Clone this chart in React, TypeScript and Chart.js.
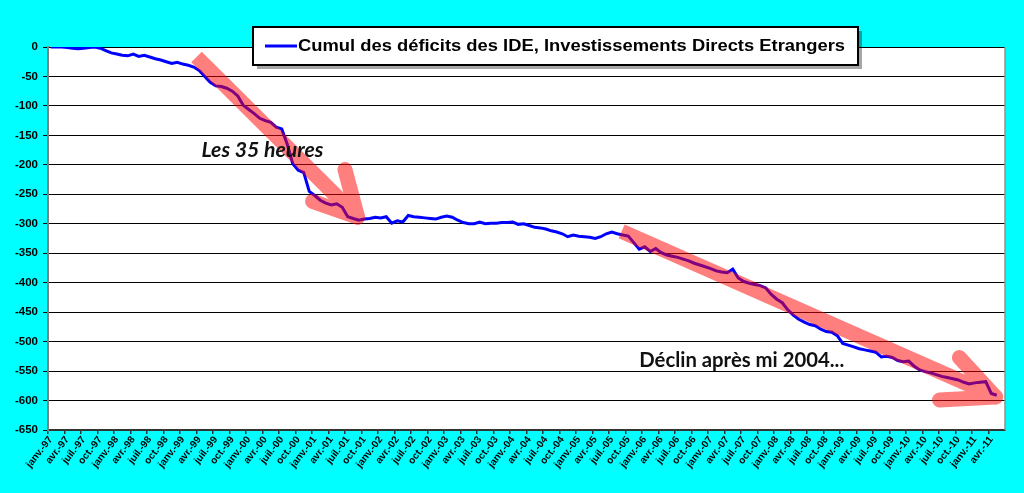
import React, { useEffect, useRef } from 'react';
import { Chart, registerables } from 'chart.js';

Chart.register(...registerables);

// ---- categories: monthly, janv.-97 .. juin-11 ----
const monthNames = ['janv.', 'févr.', 'mars', 'avr.', 'mai', 'juin', 'juil.', 'août', 'sept.', 'oct.', 'nov.', 'déc.'];
const years = [97, 98, 99, 0, 1, 2, 3, 4, 5, 6, 7, 8, 9, 10, 11];
const categories: string[] = [];
years.forEach((yy) => {
  monthNames.forEach((m, mi) => {
    if (yy === 11 && mi > 5) return;
    categories.push(`${m}-${String(yy).padStart(2, '0')}`);
  });
});

// ---- series: cumul des déficits des IDE (monthly) ----
const cumulIDE: (number | null)[] = [
  0, 0, 0, -1, -2, -3, -2, -1, 0, -2,
  -6, -10, -12, -14, -15, -12, -16, -14, -17, -20,
  -22, -25, -28, -26, -29, -31, -34, -40, -50, -60,
  -66, -67, -70, -75, -83, -99, -106, -113, -121, -125,
  -128, -136, -139, -165, -198, -209, -213, -245, -252, -260,
  -265, -268, -266, -272, -288, -291, -294, -292, -291, -289,
  -290, -288, -299, -295, -297, -286, -288, -289, -290, -291,
  -292, -289, -287, -289, -294, -298, -300, -300, -297, -300,
  -299, -299, -298, -298, -297, -301, -300, -303, -306, -307,
  -309, -312, -314, -317, -322, -319, -321, -322, -323, -325,
  -322, -317, -314, -317, -319, -321, -332, -343, -339, -347,
  -342, -349, -353, -355, -357, -360, -363, -367, -370, -373,
  -376, -380, -382, -383, -377, -392, -398, -401, -403, -405,
  -409, -420, -428, -434, -446, -455, -462, -467, -471, -473,
  -479, -483, -484, -490, -503, -506, -509, -512, -514, -516,
  -518, -526, -525, -527, -532, -534, -533, -542, -548, -551,
  -553, -556, -559, -561, -563, -565, -569, -572, -570, -569,
  -568, -588, -591, null,
];

const seriesLabel = 'Cumul des déficits des IDE, Investissements Directs Etrangers';
const yMin = -650;
const yMax = 0;
const yStep = 50;
const labelEvery = 3;

// ---- annotations (in data coordinates: [month index, value]) ----
const arrowShaft1: [number, number][] = [[26.5, -17], [55.6, -287]];
const arrowArms1: [number, number][][] = [
  [[47.6, -262], [55.8, -289]],
  [[53.5, -208], [55.8, -289]],
];
const arrowShaft2: [number, number][] = [[103.8, -313], [171.6, -592]];
const arrowArms2: [number, number][][] = [
  [[161.6, -599], [171.8, -594]],
  [[165.2, -527], [171.8, -594]],
];
const note1 = { text: 'Les 35 heures', at: [27.4, -187] as [number, number], width: 122, italic: true };
const note2 = { text: 'Déclin après mi 2004...', at: [107.0, -543] as [number, number], width: 205, italic: false };

const bgPlugin = {
  id: 'plotBg',
  beforeDraw(chart: any) {
    const { ctx, chartArea: a } = chart;
    ctx.save();
    ctx.fillStyle = '#ffffff';
    ctx.fillRect(a.left, a.top, a.right - a.left, a.bottom - a.top);
    ctx.restore();
  },
  beforeDatasetsDraw(chart: any) {
    const { ctx, chartArea: a } = chart;
    ctx.save();
    ctx.strokeStyle = '#909090';
    ctx.lineWidth = 1.5;
    ctx.beginPath();
    ctx.moveTo(a.right, a.top);
    ctx.lineTo(a.right, a.bottom);
    ctx.stroke();
    ctx.restore();
  },
};

const annotationPlugin = {
  id: 'annots',
  afterDatasetsDraw(chart: any) {
    const { ctx } = chart;
    const xs = chart.scales.x;
    const ys = chart.scales.y;
    const px = (p: [number, number]) => [xs.getPixelForValue(p[0]), ys.getPixelForValue(p[1])];

    const off = document.createElement('canvas');
    off.width = chart.width;
    off.height = chart.height;
    const o = off.getContext('2d') as CanvasRenderingContext2D;
    o.strokeStyle = '#ff0000';
    const drawArrow = (shaft: [number, number][], arms: [number, number][][]) => {
      o.lineWidth = 15;
      o.lineCap = 'butt';
      o.beginPath();
      const s0 = px(shaft[0]);
      const s1 = px(shaft[1]);
      o.moveTo(s0[0], s0[1]);
      o.lineTo(s1[0], s1[1]);
      o.stroke();
      o.lineWidth = 15;
      o.lineCap = 'round';
      o.lineJoin = 'round';
      arms.forEach((arm) => {
        const a0 = px(arm[0]);
        const a1 = px(arm[1]);
        o.beginPath();
        o.moveTo(a0[0], a0[1]);
        o.lineTo(a1[0], a1[1]);
        o.stroke();
      });
    };
    drawArrow(arrowShaft1, arrowArms1);
    drawArrow(arrowShaft2, arrowArms2);
    ctx.save();
    ctx.globalAlpha = 0.5;
    ctx.drawImage(off, 0, 0, chart.width, chart.height);
    ctx.restore();

    [note1, note2].forEach((n) => {
      const [x, y] = px(n.at);
      ctx.save();
      ctx.font = `${n.italic ? 'italic ' : ''}bold 20px Lato`;
      ctx.fillStyle = '#111111';
      ctx.textBaseline = 'alphabetic';
      const w = ctx.measureText(n.text).width;
      ctx.translate(x, y);
      ctx.scale(n.width / w, 1);
      ctx.fillText(n.text, 0, 0);
      ctx.restore();
    });
  },
  afterDraw(chart: any) {
    const { ctx } = chart;
    const bx = 253, by = 27, bw = 605, bh = 38;
    ctx.save();
    ctx.fillStyle = 'rgba(0,0,0,0.35)';
    ctx.fillRect(bx + 4, by + 4, bw, bh);
    ctx.fillStyle = '#ffffff';
    ctx.fillRect(bx, by, bw, bh);
    ctx.strokeStyle = '#000000';
    ctx.lineWidth = 2;
    ctx.strokeRect(bx, by, bw, bh);
    ctx.strokeStyle = '#0000ff';
    ctx.lineWidth = 3;
    ctx.beginPath();
    ctx.moveTo(265, 46);
    ctx.lineTo(297, 46);
    ctx.stroke();
    ctx.font = 'bold 17px "Liberation Sans"';
    ctx.fillStyle = '#000000';
    ctx.textBaseline = 'middle';
    const w = ctx.measureText(seriesLabel).width;
    ctx.translate(298, 46);
    ctx.scale(547 / w, 1);
    ctx.fillText(seriesLabel, 0, 0);
    ctx.restore();
  },
};

export default function App() {
  const ref = useRef<HTMLCanvasElement | null>(null);
  useEffect(() => {
    if (!ref.current) return;
    const chart = new Chart(ref.current, {
      type: 'line',
      data: {
        labels: categories,
        datasets: [
          {
            label: seriesLabel,
            data: cumulIDE,
            borderColor: '#0000ff',
            backgroundColor: '#0000ff',
            borderWidth: 3,
            pointRadius: 0,
            tension: 0,
            spanGaps: false,
          },
        ],
      },
      options: {
        animation: false,
        responsive: false,
        devicePixelRatio: 1,
        layout: { padding: { left: 0, right: 19, top: 47, bottom: 0 } },
        plugins: {
          legend: { display: false },
          tooltip: { enabled: false },
        },
        scales: {
          x: {
            type: 'category',
            offset: true,
            afterFit: (s: any) => { s.height = 63; },
            border: { display: true, color: '#333333', width: 2 },
            grid: {
              display: true,
              offset: true,
              drawOnChartArea: false,
              drawTicks: true,
              tickLength: 4,
              color: (c: any) => (c.index % labelEvery === 0 ? '#333333' : 'rgba(0,0,0,0)'),
              lineWidth: 1.5,
            },
            ticks: {
              autoSkip: false,
              maxRotation: 52,
              minRotation: 52,
              padding: 0,
              color: '#000000',
              font: { family: '"Liberation Sans"', size: 10, weight: 'bold' },
              callback: (_v: any, i: number) => (i % labelEvery === 0 ? categories[i] : ''),
            },
          },
          y: {
            min: yMin,
            max: yMax,
            afterFit: (s: any) => { s.width = 48; },
            border: { display: true, color: '#808080', width: 2 },
            grid: {
              color: '#000000',
              lineWidth: 1,
              drawTicks: true,
              tickLength: 5,
            },
            ticks: {
              stepSize: yStep,
              padding: 5,
              color: '#000000',
              font: { family: '"Liberation Sans"', size: 11.5, weight: 'bold' },
            },
          },
        },
      },
      plugins: [bgPlugin, annotationPlugin],
    } as any);
    return () => chart.destroy();
  }, []);

  return (
    <div style={{ position: 'absolute', left: 0, top: 0, width: 1024, height: 493, background: '#00ffff', overflow: 'hidden' }}>
      <canvas ref={ref} width={1024} height={493} style={{ display: 'block', width: 1024, height: 493 }} />
    </div>
  );
}
